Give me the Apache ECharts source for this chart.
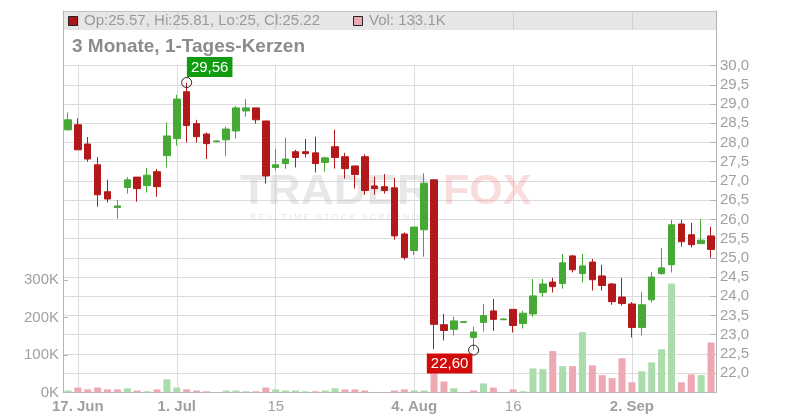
<!DOCTYPE html>
<html><head><meta charset="utf-8">
<script src="https://cdn.jsdelivr.net/npm/echarts/dist/echarts.min.js"></script>
<style>html,body{margin:0;padding:0;background:#fff}#c{width:800px;height:420px}</style>
</head><body><div id="c"></div>
<script>
const dates = ['06-16','06-17','06-18','06-19','06-20','06-23','06-24','06-25','06-26','06-27','06-30',
'07-01','07-02','07-03','07-04','07-07','07-08','07-09','07-10','07-11','07-14','07-15','07-16','07-17','07-18','07-21','07-22','07-23','07-24','07-25','07-28','07-29','07-30','07-31',
'08-01','08-04','08-05','08-06','08-07','08-08','08-11','08-12','08-13','08-14','08-15','08-18','08-19','08-20','08-21','08-22','08-25','08-26','08-27','08-28','08-29',
'09-01','09-02','09-03','09-04','09-05','09-08','09-09','09-10','09-11','09-12','09-15'];
const open = [28.33,28.46,27.96,27.42,26.72,26.31,26.83,27.10,26.88,27.24, 27.66,28.10,29.32,28.49,28.22,28.02,28.07,28.30,28.82,28.90, 28.56,27.35,27.45,27.76,27.76,27.73,27.48,27.89,27.63,27.39, 27.63,26.87,26.85,26.82,25.62,25.19,25.73,27.03,23.26,23.14, 23.32,22.93,23.32,23.62,23.39,23.66,23.29,23.54,24.10,24.37, 24.33,25.05,24.59,24.89,24.53,24.32,23.98,23.80,23.19,23.91, 24.59,24.82,25.88,25.60,25.37,25.57];
const close = [28.59,27.81,27.57,26.64,26.53,26.35,27.03,26.80,27.15,26.85, 28.17,29.13,28.44,28.15,27.97,28.04,28.35,28.90,28.90,28.59, 27.13,27.42,27.57,27.61,27.71,27.45,27.60,27.61,27.32,27.17, 26.75,26.80,26.75,25.57,25.01,25.80,26.94,23.27,23.11,23.36, 23.34,23.07,23.50,23.40,23.41,23.24,23.56,24.01,24.32,24.25, 24.87,24.69,24.79,24.43,24.28,23.86,23.81,23.19,23.78,24.50, 24.74,25.86,25.42,25.34,25.46,25.22];
const high = [28.78,28.63,28.14,27.62,27.03,26.51,27.10,27.10,27.34,27.31, 28.52,29.24,29.56,28.59,28.26,28.05,28.41,28.95,29.13,28.90, 28.56,27.83,28.12,27.81,28.09,28.15,27.63,28.33,27.73,27.39, 27.69,27.11,27.18,27.08,25.66,25.80,27.20,27.03,23.54,23.47, 23.35,23.21,23.80,23.93,23.42,23.66,23.62,24.45,24.45,24.48, 25.10,25.08,25.10,24.97,24.82,24.35,24.48,23.85,24.11,24.63, 25.26,25.99,25.99,25.91,26.01,25.81];
const low = [28.31,27.81,27.50,26.33,26.44,26.02,26.67,26.46,26.70,26.59, 27.35,27.92,28.00,28.00,27.57,28.01,27.65,28.10,28.67,28.49, 26.93,27.27,27.32,27.35,27.61,27.22,27.24,27.32,27.06,26.80, 26.64,26.64,26.67,25.47,24.95,25.08,25.03,22.62,22.85,22.98, 23.31,22.60,23.08,23.10,23.38,23.06,23.16,23.47,23.99,24.10, 24.20,24.62,24.36,24.15,24.15,23.78,23.76,22.93,22.98,23.84, 24.56,24.62,25.29,25.27,25.37,25.00];
const volumeK = [5,13,8,13,8,8,11,5,3,8, 35,13,8,5,3,1,5,5,3,3, 13,8,5,5,3,3,5,11,8,8, 5,1,1,5,8,5,5,55,29,11, 0.5,5,24,13,0.5,8,3,64,62,110, 70,70,161,72,46,38,91,27,56,80, 115,290,27,48,46,133.1];
const tickIdx = [1, 11, 21, 35, 45, 57];
const tickText = ['17. Jun', '1. Jul', '15', '4. Aug', '16', '2. Sep'];
const tickBold = [true, true, false, true, false, true];
const priceLabels = [22,22.5,23,23.5,24,24.5,25,25.5,26,26.5,27,27.5,28,28.5,29,29.5,30];
const volLabelsK = [0,100,200,300];

const G = '#46a935', R = '#b3181b', VG = '#abdcab', VR = '#eea8b1';
const FONT = '"Liberation Sans", Arial, sans-serif';
const GRAY = '#a0a0a0';
const N = dates.length;
const isTick = (i) => tickIdx.indexOf(i) >= 0;
const fmt = (v, d) => v.toFixed(d).replace('.', ',');

const candleData = dates.map((d, i) => [open[i], close[i], low[i], high[i]]);
const volData = volumeK.map((v, i) => ({
  value: v * 1000,
  itemStyle: { color: (i === 0 ? close[0] >= open[0] : close[i] >= close[i - 1]) ? VG : VR }
}));
let hiIdx = 0, loIdx = 0;
for (let i = 0; i < N; i++) { if (high[i] > high[hiIdx]) hiIdx = i; if (low[i] < low[loIdx]) loIdx = i; }

const chart = echarts.init(document.getElementById('c'), null, { renderer: 'canvas' });
const splitCol = '#dcdcdc';
const option = {
  animation: false,
  textStyle: { fontFamily: FONT },
  grid: [
    { left: 63, right: 84, top: 65.6, bottom: 27.6 },
    { left: 63, right: 84, top: 11, height: 19, show: true, backgroundColor: '#e6e6e6', borderWidth: 0 },
    { left: 63, right: 84, top: 11, height: 54.6 }
  ],
  xAxis: [
    { type: 'category', data: dates, gridIndex: 0, boundaryGap: true,
      axisLine: { onZero: false, lineStyle: { color: '#b4b4b4' } },
      axisTick: { interval: (i) => isTick(i), alignWithLabel: true, length: 4, lineStyle: { color: '#b4b4b4' } },
      axisLabel: { interval: (i) => isTick(i), margin: 7, fontSize: 15, color: GRAY, fontFamily: FONT,
        formatter: (v, i) => { const k = tickIdx.indexOf(i); if (k < 0) return ''; return tickBold[k] ? '{b|' + tickText[k] + '}' : tickText[k]; },
        rich: { b: { fontWeight: 'bold', fontSize: 15, color: GRAY, fontFamily: FONT } } },
      splitLine: { show: true, interval: (i) => isTick(i), alignWithLabel: true, lineStyle: { color: splitCol } }
    },
    { type: 'category', data: dates, gridIndex: 1, position: 'top', boundaryGap: true,
      axisLine: { show: true, onZero: false, lineStyle: { color: '#c4c4c4' } }, axisTick: { show: false }, axisLabel: { show: false },
      splitLine: { show: true, interval: (i) => isTick(i), alignWithLabel: true, lineStyle: { color: '#d0d0d0' } }
    },
    { type: 'category', data: dates, gridIndex: 2, show: false }
  ],
  yAxis: [
    { type: 'value', gridIndex: 0, position: 'right', min: 21.5, max: 30, interval: 0.5, scale: true,
      axisLine: { show: true, lineStyle: { color: '#b4b4b4' } },
      axisTick: { show: true, inside: true, length: 6, lineStyle: { color: '#b4b4b4' }, customValues: priceLabels },
      axisLabel: { margin: 4, fontSize: 15, color: GRAY, fontFamily: FONT, customValues: priceLabels, formatter: (v) => fmt(v, 1) },
      splitLine: { show: true, lineStyle: { color: splitCol } }
    },
    { type: 'value', gridIndex: 0, position: 'left', min: 0, max: 871000, interval: 100000,
      axisLine: { show: true, lineStyle: { color: '#b4b4b4' } },
      axisTick: { show: true, inside: true, length: 5, lineStyle: { color: '#b4b4b4' }, customValues: volLabelsK.map(v => v * 1000) },
      axisLabel: { margin: 4, fontSize: 15, color: GRAY, fontFamily: FONT, customValues: volLabelsK.map(v => v * 1000), formatter: (v) => (v / 1000) + 'K' },
      splitLine: { show: false }
    },
    { type: 'value', gridIndex: 1, show: false, min: 0, max: 1 },
    { type: 'value', gridIndex: 2, position: 'left', min: 0, max: 1,
      axisLine: { show: true, lineStyle: { color: '#b4b4b4' } }, axisTick: { show: false }, axisLabel: { show: false }, splitLine: { show: false } },
    { type: 'value', gridIndex: 2, position: 'right', min: 0, max: 1,
      axisLine: { show: true, lineStyle: { color: '#b4b4b4' } }, axisTick: { show: false }, axisLabel: { show: false }, splitLine: { show: false } }
  ],
  graphic: [
    { type: 'rect', z: 1, shape: { x: 64, y: 30, width: 651, height: 35 }, style: { fill: '#fff' } },
    { type: 'text', z: 3, left: 72, top: 37, style: { text: '3 Monate, 1-Tages-Kerzen', font: 'bold 19px ' + FONT, fill: '#8c8c8c' } },
    { type: 'rect', z: 3, shape: { x: 68.5, y: 16.5, width: 9, height: 9 }, style: { fill: '#b01416', stroke: '#222', lineWidth: 1 } },
    { type: 'text', z: 3, left: 84, top: 13, style: { text: 'Op:' + open[N-1] + ', Hi:' + high[N-1] + ', Lo:' + low[N-1] + ', Cl:' + close[N-1], font: '15px ' + FONT, fill: '#9a9a9a' } },
    { type: 'rect', z: 3, shape: { x: 353.5, y: 16.5, width: 9, height: 9 }, style: { fill: VR, stroke: '#222', lineWidth: 1 } },
    { type: 'text', z: 3, left: 369, top: 13, style: { text: 'Vol: ' + volumeK[N-1] + 'K', font: '15px ' + FONT, fill: '#9a9a9a' } },
    { type: 'text', z: 1, x: 240, y: 192, scaleX: 1.06, style: { text: 'TRADER', font: 'bold 43px ' + FONT, fill: 'rgba(190,190,190,0.35)', verticalAlign: 'middle' } },
    { type: 'text', z: 1, x: 443, y: 192, style: { text: 'FOX', font: 'bold 43px ' + FONT, fill: 'rgba(240,140,140,0.3)', verticalAlign: 'middle' } },
    { type: 'text', z: 1, x: 250, y: 218, style: { text: 'R E A L T I M E   S T O C K   S C R E E N I N G', font: '8.5px ' + FONT, fill: 'rgba(190,190,190,0.4)', verticalAlign: 'middle' } }
  ],
  series: [
    { type: 'bar', xAxisIndex: 0, yAxisIndex: 1, data: volData, barWidth: 7, z: 2 },
    { type: 'candlestick', xAxisIndex: 0, yAxisIndex: 0, data: candleData, barWidth: 7, z: 3,
      itemStyle: { color: G, color0: R, borderColor: G, borderColor0: R, borderWidth: 1 },
      markPoint: {
        symbol: 'circle', symbolSize: 10, animation: false,
        itemStyle: { color: 'rgba(255,255,255,0)', borderColor: '#222', borderWidth: 1 },
        label: { show: true, color: '#fff', fontSize: 15, fontFamily: FONT, padding: [3, 4, 2, 4], formatter: (p) => fmt(p.value, 2) },
        data: [
          { coord: [hiIdx, high[hiIdx]], value: high[hiIdx], label: { position: 'top', distance: 0, offset: [23, 0], backgroundColor: '#109c10' } },
          { coord: [loIdx, low[loIdx]], value: low[loIdx], label: { position: 'bottom', distance: 0, offset: [-24, -2], backgroundColor: '#d10a0a' } }
        ]
      }
    }
  ]
};
chart.setOption(option);
</script></body></html>
